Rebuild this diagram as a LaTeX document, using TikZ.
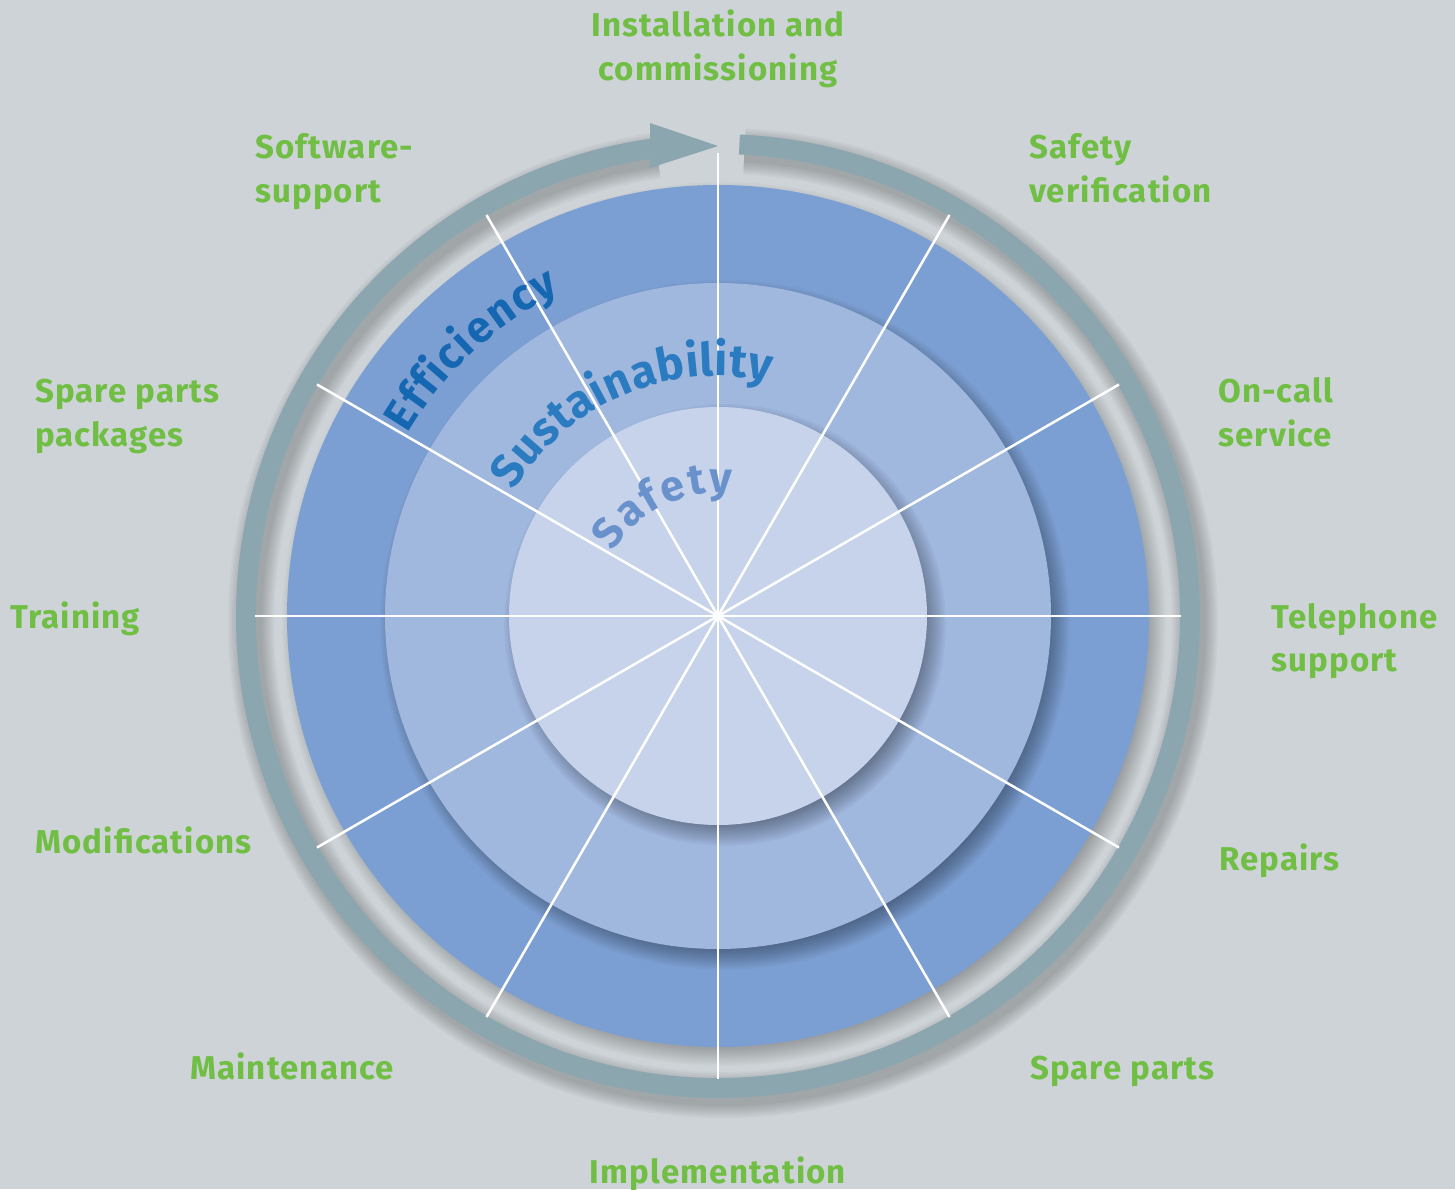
\documentclass[tikz,border=0pt]{standalone}
\usepackage{fontspec}
\setmainfont{Fira Sans}
\newfontfamily\labfont{Fira Sans}[LetterSpace=3.5]
\usetikzlibrary{decorations.text}
\definecolor{bg}{HTML}{CED3D7}
\definecolor{ringc}{HTML}{8CA6AF}
\definecolor{blueA}{HTML}{7C9FD3}
\definecolor{blueB}{HTML}{A0B7DE}
\definecolor{blueC}{HTML}{C6D3EB}
\definecolor{greenlab}{HTML}{70BF44}
\definecolor{effc}{HTML}{1667B2}
\definecolor{susc}{HTML}{2A7BC0}
\definecolor{safc}{HTML}{6991CC}
\begin{document}
\begin{tikzpicture}[x=1pt,y=1pt,
  lab/.style={font=\labfont\bfseries\fontsize{33}{39}\selectfont, text=greenlab, inner sep=0pt},
  spoke/.style={white, line width=2.5pt},
  ringline/.style={ringc, line width=20pt}]
\useasboundingbox (-718,-573) rectangle (737,616);
\fill[bg] (-718,-573) rectangle (737,616);
% ring shadow
\foreach \w in {22,26,...,46}
  \draw[black, opacity=0.03, line width=\w pt] ([shift={(5,-7)}]87.4:472) arc[start angle=87.4, end angle=-262, radius=472];
% ring with arrow
\draw[ringline] (87.4:472) arc[start angle=87.4, end angle=-262, radius=472];
\fill[ringc] (-68,493) -- (0,470) -- (-68,448) -- cycle;
% outer disk shadow + disk
\foreach \k in {0,...,12}
  \fill[black, opacity=0.024] (6,-8) circle ({420+\k*1.8});
\fill[blueA] (0,0) circle (431);
\foreach \k in {0,...,12}
  \fill[black, opacity=0.032] (7,-9) circle ({322+\k*1.9});
\fill[blueB] (0,0) circle (333);
\foreach \k in {0,...,12}
  \fill[black, opacity=0.032] (7,-9) circle ({198+\k*1.9});
\fill[blueC] (0,0) circle (209);
% spokes
\foreach \a in {0,30,...,330}
  \draw[spoke] (0,0) -- (\a:463);
% curved texts
\path[decorate, decoration={text along path, text={|\bfseries\fontsize{44}{52}\selectfont\color{effc}|Efficiency}, text align={fit to path}}]
  (149.5:360) arc[start angle=149.5, end angle=116, radius=360];
\path[decorate, decoration={text along path, text={|\bfseries\fontsize{46}{54}\selectfont\color{susc}|Sustainability}, text align={fit to path}}]
  (148.5:240) arc[start angle=148.5, end angle=77.5, radius=240];
\path[decorate, decoration={text along path, text={|\bfseries\fontsize{43}{51}\selectfont\color{safc}|Safety}, text align={fit to path}}]
  (148.5:123) arc[start angle=148.5, end angle=83.5, radius=123];
% labels
\node[lab, anchor=base] (inst1) at (0,579) {Installation and};
\node[lab, anchor=base] (inst2) at (0,535) {commissioning};
\node[lab, anchor=base west] (soft1) at (-463,457) {Software-};
\node[lab, anchor=base west] (soft2) at (-463,413) {support};
\node[lab, anchor=base west] (safe1) at (311,457) {Safety};
\node[lab, anchor=base west] (safe2) at (311,413) {verification};
\node[lab, anchor=base west] (spp1) at (-683,214) {Spare parts};
\node[lab, anchor=base west] (spp2) at (-683,170) {packages};
\node[lab, anchor=base west] (onc1) at (500,214) {On-call};
\node[lab, anchor=base west] (onc2) at (500,170) {service};
\node[lab, anchor=base west] (train) at (-708,-12) {Training};
\node[lab, anchor=base west] (tel1) at (553,-12) {Telephone};
\node[lab, anchor=base west] (tel2) at (553,-55) {support};
\node[lab, anchor=base west] (modif) at (-683,-237) {Modifications};
\node[lab, anchor=base west] (repair) at (501,-254) {Repairs};
\node[lab, anchor=base west] (maint) at (-528,-463) {Maintenance};
\node[lab, anchor=base west] (spare) at (312,-463) {Spare parts};
\node[lab, anchor=base] (impl) at (0,-567) {Implementation};
\end{tikzpicture}
\end{document}
